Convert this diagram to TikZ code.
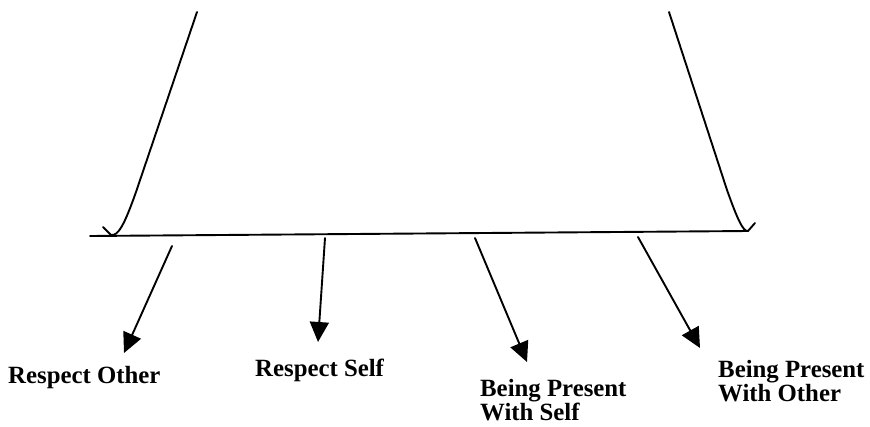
\documentclass[tikz,border=0pt]{standalone}
\usepackage{fontspec}
\setmainfont{Liberation Serif}
\usepackage{tikz}
\usetikzlibrary{arrows.meta}
\tikzstyle{stroke}=[line width=1.9pt,line cap=round,line join=round]
\tikzstyle{pointer}=[stroke,-{Triangle[length=20pt,width=19pt]}]
\tikzstyle{lbl}=[inner sep=0pt,anchor=base west,align=left,font=\fontsize{24.8}{24}\selectfont\bfseries]
\begin{document}
\begin{tikzpicture}[x=1pt,y=-1pt]
				\useasboundingbox (0,0) rectangle (870,426);
				% the two sides and the base
				\draw[stroke] (197,12) -- (136,192) .. controls (124,226) and (118,236) .. (111,235) -- (103,227);
				\draw[stroke] (669,12) -- (727,190) .. controls (737,218) and (743,232) .. (748,231) -- (755,223);
				\draw[stroke] (90,236) -- (748,231);
				% where the pointers start and end
				\coordinate (s1) at (172,246);
				\coordinate (s2) at (325,238);
				\coordinate (s3) at (475,238);
				\coordinate (s4) at (638,237);
				\coordinate (t1) at (124,353);
				\coordinate (t2) at (318,342);
				\coordinate (t3) at (527,362);
				\coordinate (t4) at (700,348);
				\node[lbl] (other) at (8,383) {Respect Other};
				\node[lbl] (self) at (255,376) {Respect Self};
				\node[lbl] (withself) at (480,420) {Being Present\\With Self};
				\node[lbl] (withother) at (718,401) {Being Present\\With Other};
				\draw[pointer] (s1) -- (t1);
				\draw[pointer] (s2) -- (t2);
				\draw[pointer] (s3) -- (t3);
				\draw[pointer] (s4) -- (t4);
\end{tikzpicture}
\end{document}
